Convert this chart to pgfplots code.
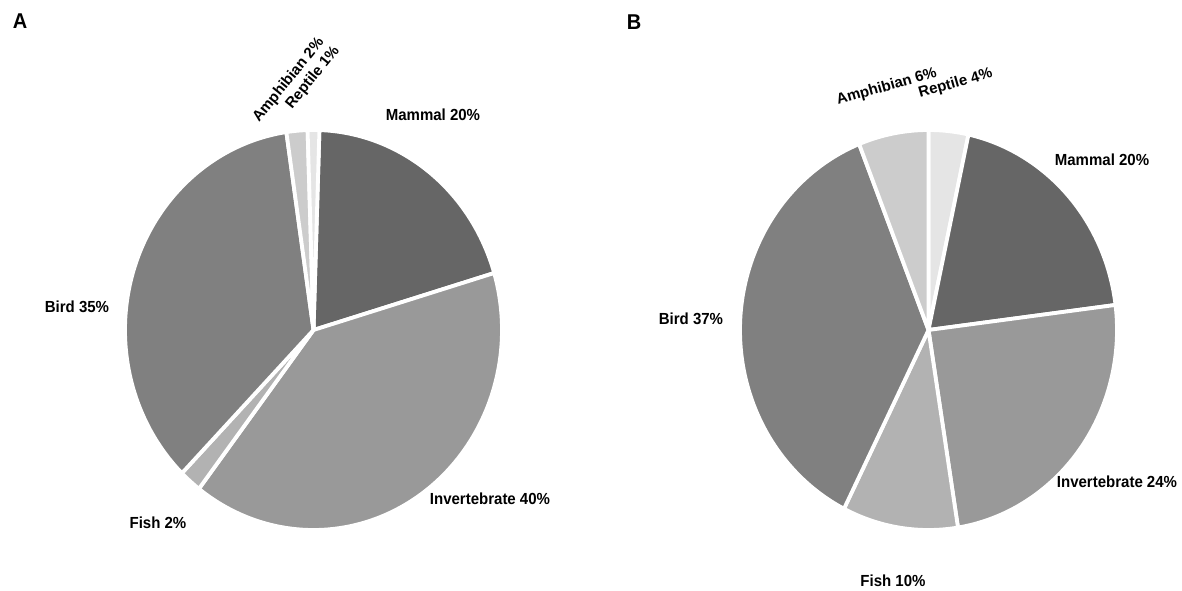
\documentclass[border=0pt]{standalone}
\usepackage{pgfplots}
\pgfplotsset{compat=1.18}
\usepackage{fontspec}
\setmainfont{Liberation Sans}
% slice: centre x, centre y, start percent, end percent, colour
\newcommand\slice[5]{%
  \addplot[fill=#5, draw=white, line width=3.8bp, line join=round,
    domain={(#3)*3.6}:{(#4)*3.6}, samples=90, variable=\t]
    ({#1+188.5*sin(\t)}, {#2-200*cos(\t)}) -- (axis cs:#1,#2) -- cycle;}
\newcommand\lab[1]{\scalebox{1}[1.07]{#1}}
\begin{document}
\begin{tikzpicture}
\begin{axis}[
  x=1bp, y=1bp, xmin=0, xmax=1182, ymin=0, ymax=591, y dir=reverse,
  hide axis, clip=false, scale only axis]
\path (rel axis cs:0,0) rectangle (rel axis cs:1,1);
% Panel A (percent shares, cumulative, starting at 0.5)
% Mammal 19.9, Invertebrate 40.0, Fish 1.9, Bird 35.4, Amphibian 1.8, Reptile 1.0
\slice{313.5}{330}{0.5}{20.4}{black!60}
\slice{313.5}{330}{20.4}{60.4}{black!40}
\slice{313.5}{330}{60.4}{62.3}{black!30}
\slice{313.5}{330}{62.3}{97.7}{black!50}
\slice{313.5}{330}{97.7}{99.5}{black!20}
\slice{313.5}{330}{99.5}{100.5}{black!10}
% Panel B
% Reptile 3.4, Mammal 19.6, Invertebrate 24.5, Fish 9.9, Bird 36.6, Amphibian 6.0
\slice{928.5}{330}{0}{3.4}{black!10}
\slice{928.5}{330}{3.4}{23.0}{black!60}
\slice{928.5}{330}{23.0}{47.5}{black!40}
\slice{928.5}{330}{47.5}{57.4}{black!30}
\slice{928.5}{330}{57.4}{94.0}{black!50}
\slice{928.5}{330}{94.0}{100}{black!20}
\begin{scope}[every node/.style={font=\fontsize{15bp}{18bp}\selectfont\bfseries, inner sep=0pt}]
\node[font=\fontsize{20bp}{24bp}\selectfont\bfseries, inner sep=0pt] at (axis cs:20,21) {\lab{A}};
\node[font=\fontsize{20bp}{24bp}\selectfont\bfseries, inner sep=0pt] at (axis cs:634,22) {\lab{B}};
\node at (axis cs:433,115) {\lab{Mammal 20\%}};
\node at (axis cs:490,499) {\lab{Invertebrate 40\%}};
\node at (axis cs:158,523) {\lab{Fish 2\%}};
\node at (axis cs:77,307) {\lab{Bird 35\%}};
\node[anchor=base west, rotate=51] at (axis cs:259,123) {Amphibian 2\%};
\node[anchor=base west, rotate=51] at (axis cs:292,110) {Reptile 1\%};
\node at (axis cs:1102,160) {\lab{Mammal 20\%}};
\node at (axis cs:1117,482) {\lab{Invertebrate 24\%}};
\node at (axis cs:691,319) {\lab{Bird 37\%}};
\node at (axis cs:893,581) {\lab{Fish 10\%}};
\node[anchor=base west, rotate=16] at (axis cs:838,105) {Amphibian 6\%};
\node[anchor=base west, rotate=16] at (axis cs:920,98) {Reptile 4\%};
\end{scope}
\end{axis}
\end{tikzpicture}
\end{document}
